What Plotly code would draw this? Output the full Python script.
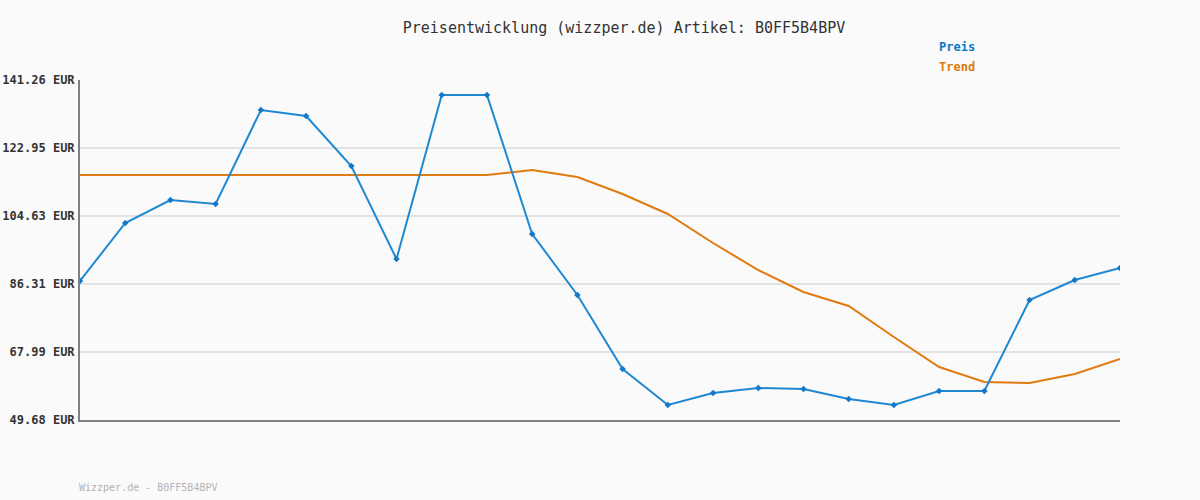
import plotly.graph_objects as go

x_index = list(range(24))
preis = [87.12, 102.74, 108.94, 107.86, 133.18, 131.56, 118.10, 93.04, 137.22, 137.22,
         99.78, 83.35, 63.42, 53.72, 56.95, 58.30, 58.03, 55.33, 53.72, 57.49,
         57.49, 82.00, 87.39, 90.62]
trend = [115.67] * 10 + [117.02, 115.13, 110.55, 105.17, 97.35, 90.08, 84.16, 80.38,
                         72.03, 63.95, 59.91, 59.64, 62.07, 66.11]
tick_vals = [49.68, 67.99, 86.31, 104.63, 122.95, 141.26]
tick_text = ["<b>%.2f EUR</b>" % v for v in tick_vals]

mono = "DejaVu Sans Mono"
fig = go.Figure()
fig.add_trace(go.Scatter(x=x_index, y=trend, mode="lines", name="Trend",
                         line=dict(color="#e07b10", width=2), showlegend=False))
fig.add_trace(go.Scatter(x=x_index, y=preis, mode="lines+markers", name="Preis",
                         line=dict(color="#1f88d2", width=2),
                         marker=dict(symbol="diamond", size=5, color="#1478c8"),
                         showlegend=False))

fig.update_layout(
    width=1200, height=500,
    margin=dict(l=80, r=80, t=80, b=80, autoexpand=False),
    paper_bgcolor="#fafafa", plot_bgcolor="#fafafa",
    title=dict(text="Preisentwicklung (wizzper.de) Artikel: B0FF5B4BPV",
               x=624 / 1200, xanchor="center", y=1 - 28 / 500, yanchor="middle",
               font=dict(family=mono, size=15, color="#333333")),
    xaxis=dict(range=[0, 23], showgrid=False, zeroline=False, showticklabels=False,
               showline=True, linecolor="#808080", linewidth=2, ticks="",
               automargin=False),
    yaxis=dict(range=[49.68, 141.26], tickvals=tick_vals, ticktext=tick_text,
               showgrid=True, gridcolor="#e3e3e3", gridwidth=2, zeroline=False,
               showline=True, linecolor="#808080", linewidth=2, ticks="",
               ticklabelstandoff=1, automargin=False,
               tickfont=dict(family=mono, size=12, color="#333333")),
    annotations=[
        dict(text="<b>Preis</b>", x=937, y=47, xref="paper", yref="paper",
             showarrow=False, font=dict(family=mono, size=12, color="#0a78c8")),
        dict(text="<b>Trend</b>", x=937, y=67, xref="paper", yref="paper",
             showarrow=False, font=dict(family=mono, size=12, color="#d97a0a")),
        dict(text="Wizzper.de - B0FF5B4BPV", x=77, y=487, xref="paper", yref="paper",
             showarrow=False, font=dict(family=mono, size=10, color="#b4b4b4")),
    ],
)

# convert pixel positions of annotations to paper coordinates
for a in fig.layout.annotations:
    px, py = a.x, a.y
    a.x = (px - 80) / 1040
    a.y = (420 - py) / 340
    a.xanchor = "left"
    a.yanchor = "middle"

fig.write_html("out.html", config={"displayModeBar": False},
               post_script="document.body.style.margin='0';document.body.style.background='#fafafa';")
